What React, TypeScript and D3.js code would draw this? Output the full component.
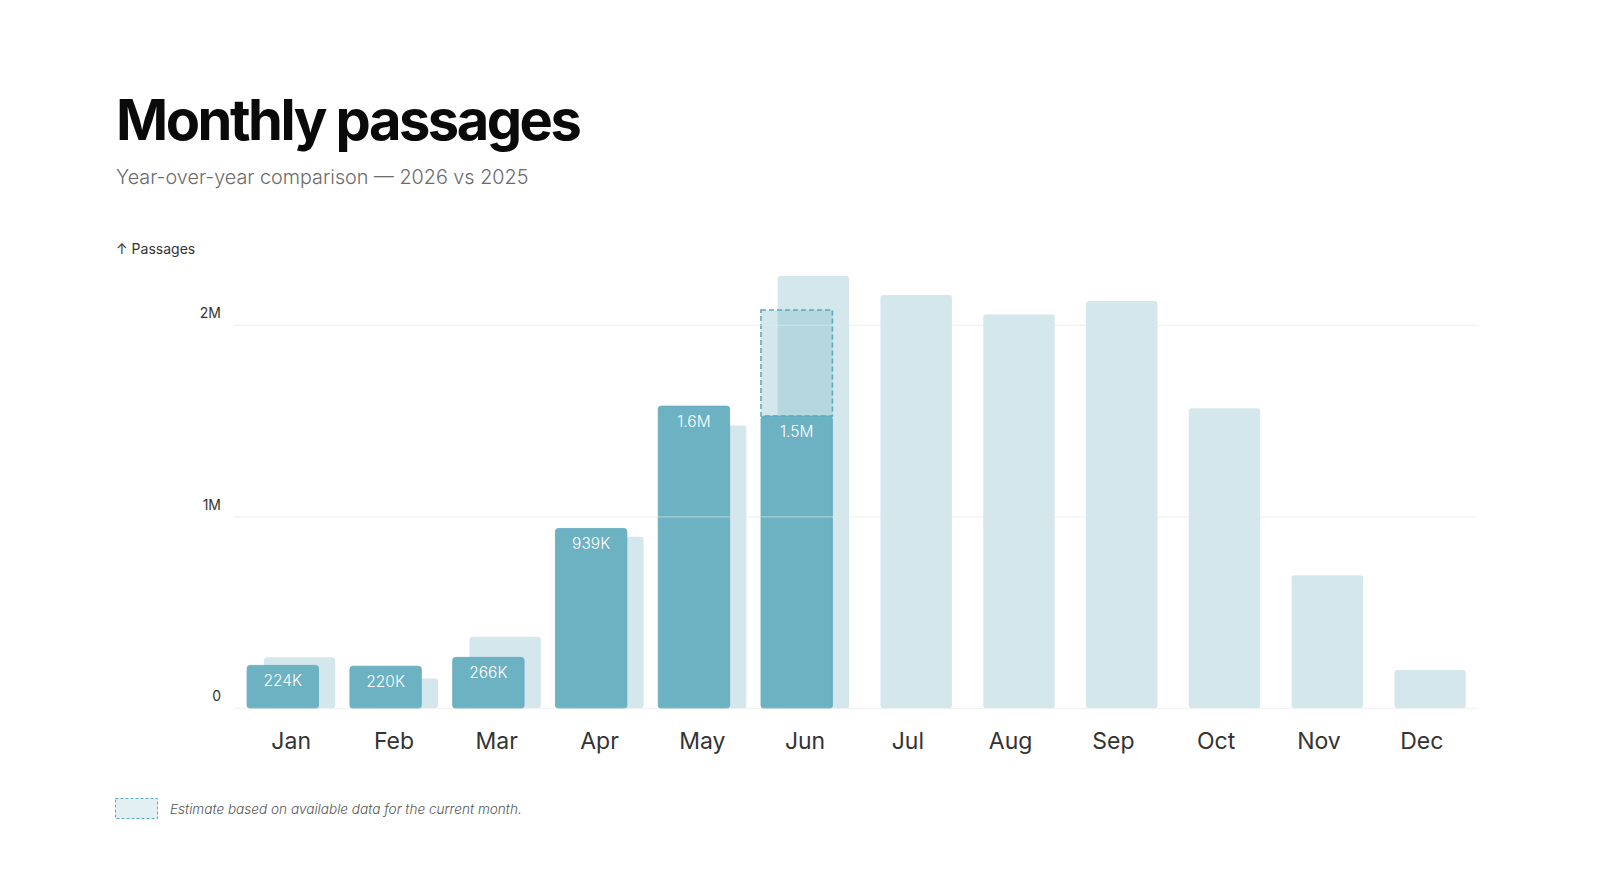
import React from "react";
import * as d3 from "d3";

// Monthly passages, 2026 (partial year) vs 2025
const months = ["Jan", "Feb", "Mar", "Apr", "May", "Jun", "Jul", "Aug", "Sep", "Oct", "Nov", "Dec"];
const passages2026 = [224000, 220000, 266000, 939000, 1578000, 1526000];
const passages2025 = [266000, 155000, 374000, 896000, 1477000, 2257000, 2158000, 2057000, 2127000, 1567000, 695000, 200000];
const estimateMonth = "Jun";
const estimateValue = 2080000;
const yTicks = [0, 1000000, 2000000];

const W = 1600;
const H = 886;
const FONT = "Inter, 'Noto Sans', sans-serif";

const fmtValue = (v: number) =>
  v >= 1e6 ? (v / 1e6).toFixed(1) + "M" : Math.round(v / 1e3) + "K";
const fmtTick = (v: number) => (v === 0 ? "0" : v / 1e6 + "M");

export default function App() {
  // scales
  const x = d3.scaleBand<string>().domain(months).range([239.8, 1473.1]).padding(0);
  const y = d3.scaleLinear().domain([0, 2300000]).range([708.3, 708.3 - 2.3 * 191.5]);

  const step = x.step();
  const barW = step * 0.695;
  const shift = step * 0.0813; // half the offset between the two years
  const center = (m: string) => (x(m) as number) + x.bandwidth() / 2;

  const teal = "#6cb2c3";
  const light = "#d3e7ed";
  const dash = "#5aabbf";

  const estIdx = months.indexOf(estimateMonth);

  return (
    <svg width={W} height={H} style={{ position: "absolute", left: 0, top: 0, background: "#fff" }} fontFamily={FONT}>
      {/* header */}
      <text x={116} y={140} fontSize={56} fontWeight={700} fill="#0a0a0a" letterSpacing={-2.5}>
        Monthly passages
      </text>
      <text x={116} y={184} fontSize={19.8} fontWeight={300} fill="#6b6b6b">
        Year-over-year comparison — 2026 vs 2025
      </text>
      <text x={116} y={254} fontSize={14} fill="#333">
        ↑ Passages
      </text>

      {/* y tick labels */}
      {yTicks.map((t) => (
        <text key={t} x={221} y={y(t) - 7} fontSize={14} fill="#333" textAnchor="end">
          {fmtTick(t)}
        </text>
      ))}

      {/* 2025 bars (behind) */}
      {passages2025.map((v, i) => (
        <rect
          key={"p" + i}
          x={center(months[i]) + shift - barW / 2}
          y={y(v)}
          width={barW}
          height={y(0) - y(v)}
          rx={3}
          fill={light}
        />
      ))}

      {/* 2026 bars */}
      {passages2026.map((v, i) => (
        <rect
          key={"c" + i}
          x={center(months[i]) - shift - barW / 2}
          y={y(v)}
          width={barW}
          height={y(0) - y(v)}
          rx={3}
          fill={teal}
          stroke="#63aabc"
          strokeWidth={0.8}
        />
      ))}

      {/* estimate for the current month */}
      <rect
        x={center(estimateMonth) - shift - barW / 2}
        y={y(estimateValue)}
        width={barW}
        height={y(passages2026[estIdx]) - y(estimateValue)}
        fill={teal}
        fillOpacity={0.3}
        stroke={dash}
        strokeWidth={1.6}
        strokeDasharray="5 3"
      />

      {/* gridlines drawn over the bars */}
      {yTicks.map((t) => (
        <line key={"g" + t} x1={234} x2={1477} y1={y(t)} y2={y(t)} stroke="#e6e6e6" strokeOpacity={0.5} strokeWidth={1.2} />
      ))}

      {/* value labels */}
      {passages2026.map((v, i) => (
        <text
          key={"l" + i}
          x={center(months[i]) - shift}
          y={y(v) + 21}
          fontSize={15.5}
          fontWeight={300}
          fill="#fff"
          textAnchor="middle"
        >
          {fmtValue(v)}
        </text>
      ))}

      {/* month labels */}
      {months.map((m) => (
        <text key={m} x={center(m)} y={749} fontSize={23} fill="#333" textAnchor="middle">
          {m}
        </text>
      ))}

      {/* footnote legend */}
      <rect x={115.5} y={798.5} width={42} height={20} fill={teal} fillOpacity={0.2} stroke={dash} strokeWidth={1} strokeDasharray="3 2" />
      <text x={170} y={814} fontSize={13.6} fontStyle="italic" fontWeight={300} fill="#555">
        Estimate based on available data for the current month.
      </text>
    </svg>
  );
}
